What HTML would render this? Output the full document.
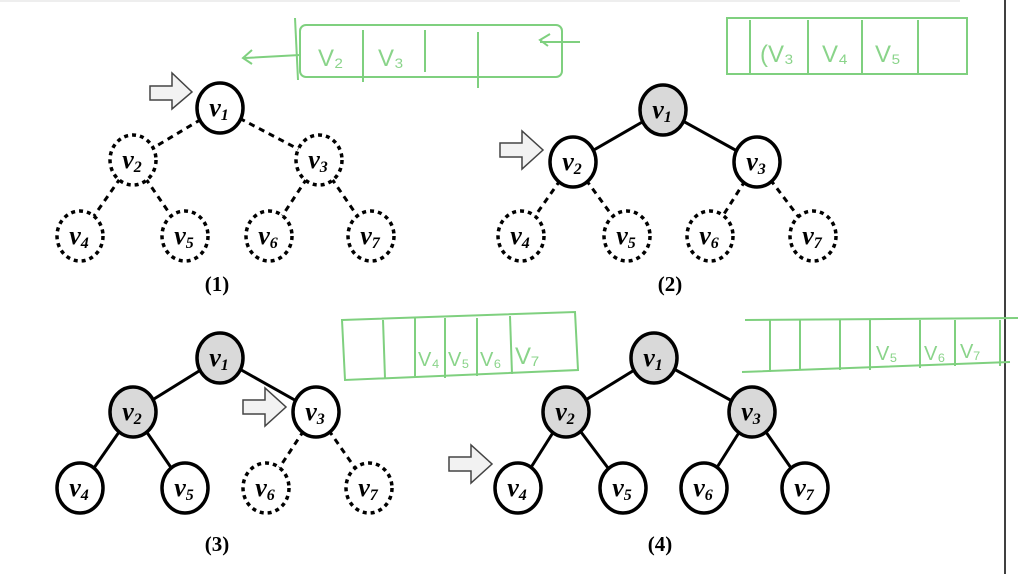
<!DOCTYPE html>
<html><head><meta charset="utf-8"><style>
html,body{margin:0;padding:0;background:#fff;}
svg{display:block}
.n{fill:#fff;stroke:#000;stroke-width:3.5}
.g{fill:#d9d9d9;stroke:#000;stroke-width:3.5}
.d{fill:#fff;stroke:#000;stroke-width:3.5;stroke-dasharray:4 4}
.s{stroke:#000;stroke-width:3}
.ds{stroke:#000;stroke-width:3;stroke-dasharray:6 5}
.t{font-family:"Liberation Serif",serif;font-style:italic;font-weight:bold;font-size:26px}
.sb{font-size:16px}
.c{font-family:"Liberation Serif",serif;font-weight:bold;font-size:21px}
.gr{fill:none;stroke:#7fd07f;stroke-width:2}
.gt{font-family:"Liberation Sans",sans-serif;font-size:24px;fill:#8ad48a}
.ar{fill:#f2f2f2;stroke:#444;stroke-width:1.5}
</style></head><body>
<svg width="1018" height="574" viewBox="0 0 1018 574">
<line x1="0" y1="1" x2="960" y2="1" stroke="#eee" stroke-width="2"/>
<line x1="1005" y1="0" x2="1005" y2="574" stroke="#000" stroke-width="1.5"/>

<g class="gr">
<rect x="300" y="25" width="262" height="52" rx="6"/>
<line x1="295" y1="18" x2="298" y2="80"/><line x1="363" y1="30" x2="363" y2="82"/><line x1="425" y1="30" x2="425" y2="72"/><line x1="478" y1="32" x2="478" y2="88"/>
<path d="M300 55 L245 58 M252 50 L243 58 L252 64"/>
<path d="M540 42 L580 42 M550 34 L540 40 L548 46"/>
<rect x="727" y="18" width="240" height="56"/>
<line x1="750" y1="20" x2="750" y2="74"/><line x1="808" y1="20" x2="808" y2="74"/><line x1="862" y1="20" x2="862" y2="74"/><line x1="918" y1="20" x2="918" y2="74"/>
<path d="M342 320 L575 312 L578 370 L345 380 Z"/>
<line x1="383" y1="320" x2="385" y2="378"/><line x1="415" y1="318" x2="415" y2="378"/><line x1="445" y1="318" x2="445" y2="378"/><line x1="477" y1="318" x2="477" y2="376"/><line x1="510" y1="316" x2="512" y2="374"/>
<path d="M745 320 L1018 318 M742 372 L1010 362"/>
<line x1="770" y1="320" x2="770" y2="372"/><line x1="800" y1="320" x2="800" y2="370"/><line x1="840" y1="320" x2="840" y2="370"/><line x1="870" y1="320" x2="870" y2="370"/><line x1="920" y1="320" x2="920" y2="368"/><line x1="955" y1="320" x2="955" y2="366"/><line x1="1000" y1="320" x2="1000" y2="366"/>
</g>
<g class="gt">
<text x="318" y="66">V₂</text><text x="378" y="66">V₃</text>
<text x="760" y="62">(V₃</text><text x="822" y="62">V₄</text><text x="875" y="62">V₅</text>
<text x="418" y="366" font-size="20">V₄</text><text x="448" y="366" font-size="20">V₅</text><text x="480" y="366" font-size="20">V₆</text><text x="515" y="364">V₇</text>
<text x="876" y="360" font-size="20">V₅</text><text x="924" y="360" font-size="20">V₆</text><text x="960" y="358" font-size="20">V₇</text>
</g>

<g>
<line class="ds" x1="220" y1="108" x2="133" y2="160"/><line class="ds" x1="220" y1="108" x2="319" y2="160"/>
<line class="ds" x1="133" y1="160" x2="80" y2="236"/><line class="ds" x1="133" y1="160" x2="185" y2="236"/>
<line class="ds" x1="319" y1="160" x2="269" y2="236"/><line class="ds" x1="319" y1="160" x2="371" y2="236"/>
<ellipse class="n" cx="220" cy="108" rx="23" ry="25"/>
<ellipse class="d" cx="133" cy="160" rx="23" ry="25"/><ellipse class="d" cx="319" cy="160" rx="23" ry="25"/>
<ellipse class="d" cx="80" cy="236" rx="23" ry="25"/><ellipse class="d" cx="185" cy="236" rx="23" ry="25"/>
<ellipse class="d" cx="269" cy="236" rx="23" ry="25"/><ellipse class="d" cx="371" cy="236" rx="23" ry="25"/>
<path class="ar" d="M150 86 L172 86 L172 73 L192 92 L172 109 L172 100 L150 100 Z"/>
</g>
<g>
<line class="s" x1="663" y1="110" x2="573" y2="162"/><line class="s" x1="663" y1="110" x2="757" y2="162"/>
<line class="ds" x1="573" y1="162" x2="521" y2="236"/><line class="ds" x1="573" y1="162" x2="627" y2="236"/>
<line class="ds" x1="757" y1="162" x2="710" y2="236"/><line class="ds" x1="757" y1="162" x2="813" y2="236"/>
<ellipse class="g" cx="663" cy="110" rx="23" ry="25"/>
<ellipse class="n" cx="573" cy="162" rx="23" ry="25"/><ellipse class="n" cx="757" cy="162" rx="23" ry="25"/>
<ellipse class="d" cx="521" cy="236" rx="23" ry="25"/><ellipse class="d" cx="627" cy="236" rx="23" ry="25"/>
<ellipse class="d" cx="710" cy="236" rx="23" ry="25"/><ellipse class="d" cx="813" cy="236" rx="23" ry="25"/>
<path class="ar" d="M500 143 L522 143 L522 131 L543 150 L522 169 L522 157 L500 157 Z"/>
</g>
<g>
<line class="s" x1="220" y1="358" x2="133" y2="412"/><line class="s" x1="220" y1="358" x2="316" y2="412"/>
<line class="s" x1="133" y1="412" x2="80" y2="488"/><line class="s" x1="133" y1="412" x2="185" y2="488"/>
<line class="ds" x1="316" y1="412" x2="266" y2="488"/><line class="ds" x1="316" y1="412" x2="369" y2="488"/>
<ellipse class="g" cx="220" cy="358" rx="23" ry="25"/>
<ellipse class="g" cx="133" cy="412" rx="23" ry="25"/><ellipse class="n" cx="316" cy="412" rx="23" ry="25"/>
<ellipse class="n" cx="80" cy="488" rx="23" ry="25"/><ellipse class="n" cx="185" cy="488" rx="23" ry="25"/>
<ellipse class="d" cx="266" cy="488" rx="23" ry="25"/><ellipse class="d" cx="369" cy="488" rx="23" ry="25"/>
<path class="ar" d="M243 400 L265 400 L265 388 L286 407 L265 426 L265 414 L243 414 Z"/>
</g>
<g>
<line class="s" x1="654" y1="358" x2="566" y2="412"/><line class="s" x1="654" y1="358" x2="752" y2="412"/>
<line class="s" x1="566" y1="412" x2="518" y2="488"/><line class="s" x1="566" y1="412" x2="623" y2="488"/>
<line class="s" x1="752" y1="412" x2="704" y2="488"/><line class="s" x1="752" y1="412" x2="805" y2="488"/>
<ellipse class="g" cx="654" cy="358" rx="23" ry="25"/>
<ellipse class="g" cx="566" cy="412" rx="23" ry="25"/><ellipse class="g" cx="752" cy="412" rx="23" ry="25"/>
<ellipse class="n" cx="518" cy="488" rx="23" ry="25"/><ellipse class="n" cx="623" cy="488" rx="23" ry="25"/>
<ellipse class="n" cx="704" cy="488" rx="23" ry="25"/><ellipse class="n" cx="805" cy="488" rx="23" ry="25"/>
<path class="ar" d="M449 457 L471 457 L471 445 L492 464 L471 483 L471 471 L449 471 Z"/>
</g>

<g class="t" text-anchor="middle">
<text x="219" y="116">v<tspan class="sb" dy="4">1</tspan></text>
<text x="132" y="168">v<tspan class="sb" dy="4">2</tspan></text>
<text x="318" y="168">v<tspan class="sb" dy="4">3</tspan></text>
<text x="79" y="244">v<tspan class="sb" dy="4">4</tspan></text>
<text x="184" y="244">v<tspan class="sb" dy="4">5</tspan></text>
<text x="268" y="244">v<tspan class="sb" dy="4">6</tspan></text>
<text x="370" y="244">v<tspan class="sb" dy="4">7</tspan></text>

<text x="662" y="118">v<tspan class="sb" dy="4">1</tspan></text>
<text x="572" y="170">v<tspan class="sb" dy="4">2</tspan></text>
<text x="756" y="170">v<tspan class="sb" dy="4">3</tspan></text>
<text x="520" y="244">v<tspan class="sb" dy="4">4</tspan></text>
<text x="626" y="244">v<tspan class="sb" dy="4">5</tspan></text>
<text x="709" y="244">v<tspan class="sb" dy="4">6</tspan></text>
<text x="812" y="244">v<tspan class="sb" dy="4">7</tspan></text>

<text x="219" y="366">v<tspan class="sb" dy="4">1</tspan></text>
<text x="132" y="420">v<tspan class="sb" dy="4">2</tspan></text>
<text x="315" y="420">v<tspan class="sb" dy="4">3</tspan></text>
<text x="79" y="496">v<tspan class="sb" dy="4">4</tspan></text>
<text x="184" y="496">v<tspan class="sb" dy="4">5</tspan></text>
<text x="265" y="496">v<tspan class="sb" dy="4">6</tspan></text>
<text x="368" y="496">v<tspan class="sb" dy="4">7</tspan></text>

<text x="653" y="366">v<tspan class="sb" dy="4">1</tspan></text>
<text x="565" y="420">v<tspan class="sb" dy="4">2</tspan></text>
<text x="751" y="420">v<tspan class="sb" dy="4">3</tspan></text>
<text x="517" y="496">v<tspan class="sb" dy="4">4</tspan></text>
<text x="622" y="496">v<tspan class="sb" dy="4">5</tspan></text>
<text x="703" y="496">v<tspan class="sb" dy="4">6</tspan></text>
<text x="804" y="496">v<tspan class="sb" dy="4">7</tspan></text>
</g>
<g class="c" text-anchor="middle">
<text x="217" y="291">(1)</text><text x="670" y="291">(2)</text>
<text x="217" y="551">(3)</text><text x="660" y="551">(4)</text>
</g>
</svg>
</body></html>
